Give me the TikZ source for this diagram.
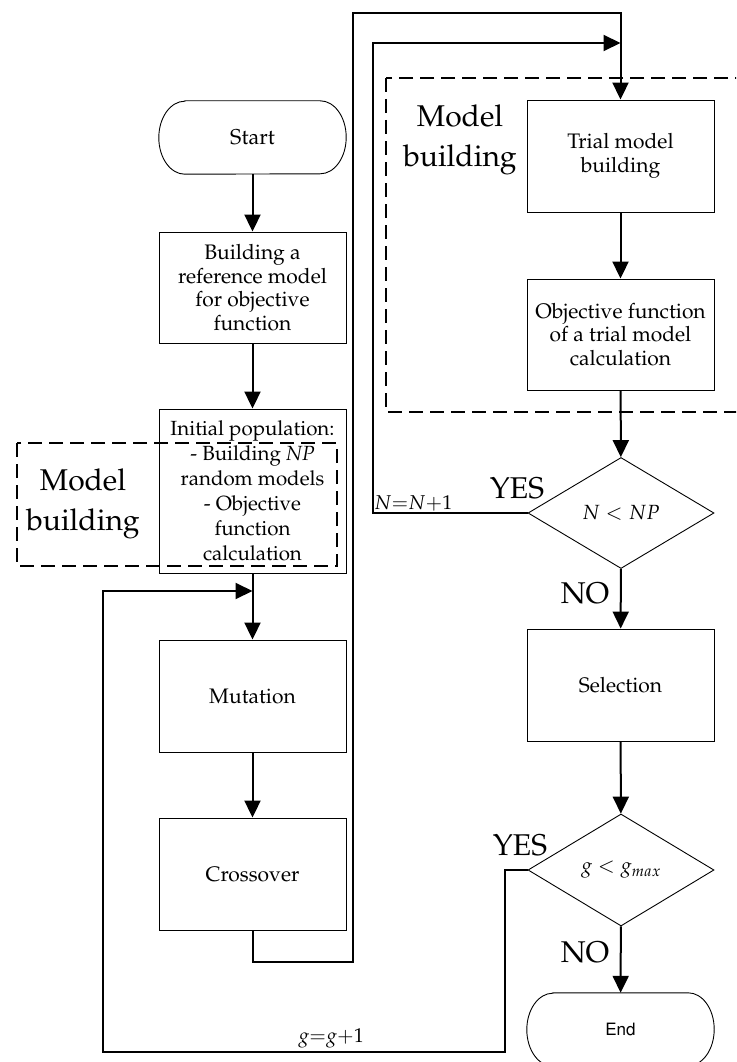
\documentclass[tikz,border=0pt]{standalone}
\usepackage[T1]{fontenc}
\usepackage{mathpazo}
\usetikzlibrary{arrows.meta,shapes.geometric}
\newcommand\stadium[1]{\draw[line width=0.9pt] ([xshift=26pt]#1.north west) -- ([xshift=-26pt]#1.north east) arc[start angle=90,end angle=-90,x radius=26pt,y radius=36.5pt] -- ([xshift=26pt]#1.south west) arc[start angle=270,end angle=90,x radius=26pt,y radius=36.5pt] -- cycle;}
\tikzset{
 box/.style={draw, line width=0.9pt, minimum width=187pt, inner sep=2pt, align=center, font=\fontsize{21}{23.5}\selectfont},
 term/.style={minimum width=187pt, minimum height=73pt, inner sep=0pt, align=center},
 dec/.style={draw, diamond, line width=0.9pt, minimum width=186pt, minimum height=111pt, inner sep=0pt, font=\fontsize{20.5}{22}\selectfont},
 conn/.style={line width=2pt},
 arr/.style={conn, -{Triangle[length=17pt,width=16pt]}},
 grp/.style={line width=1.8pt, dash pattern=on 14pt off 7pt},
 big/.style={font=\fontsize{30}{40}\selectfont, align=center, inner sep=0pt},
 lbl/.style={font=\fontsize{20}{22}\selectfont, inner sep=0pt},
}
\begin{document}
\begin{tikzpicture}[x=1pt,y=1pt]
\useasboundingbox (0,0) rectangle (736,-1062);
\clip (0,0) rectangle (736,-1062);
% nodes
\node[term, font=\fontsize{21.5}{23.5}\selectfont] (start) at (252.5,-137.5) {Start};
\stadium{start}
\node[box, minimum height=111pt] (b1) at (252.5,-287.5) {Building a\\reference model\\for objective\\function};
\node[box, minimum height=164pt, font=\fontsize{20.5}{25}\selectfont] (b2) at (252.5,-491) {Initial population:\\- Building \textit{NP}\\random models\\- Objective\\function\\calculation};
\node[box, minimum height=112pt] (mut) at (252.5,-696) {Mutation};
\node[box, minimum height=112pt] (cro) at (252.5,-874) {Crossover};
\node[box, minimum height=112pt] (trial) at (620.5,-156) {Trial model\\building};
\node[box, minimum height=111pt] (obj) at (620.5,-334.5) {Objective function\\of a trial model\\calculation};
\node[dec] (d1) at (621,-513) {$N < NP$};
\node[box, minimum height=112pt] (sel) at (620.5,-685) {Selection};
\node[dec, minimum height=112pt] (d2) at (621,-870) {$g < g_{max}$};
\node[term, font=\fontfamily{phv}\fontsize{17}{20}\selectfont] (endn) at (620.5,-1029.5) {End};
\stadium{endn}
% join points
\coordinate (jg) at (252.5,-591);
\coordinate (jn) at (620.5,-43);
% connectors
\draw[arr] (start) -- (b1);
\draw[arr] (b1) -- (b2);
\draw[arr] (b2) -- (mut);
\draw[arr] (mut) -- (cro);
\draw[arr] (cro.south) -- ++(0,-32) -| (353,-13) -| (trial.north);
\draw[arr] (trial) -- (obj);
\draw[arr] (obj) -- (d1);
\draw[arr] (d1.west) -| (373,-43) -- (jn);
\draw[arr] (d1) -- (sel);
\draw[arr] (sel) -- (d2);
\draw[arr] (d2) -- (endn);
\draw[arr] (d2.west) -| (505,-1052) -| (103,-591) -- (jg);
% groups
\draw[grp] (17,-443) rectangle (337,-566);
\draw[grp] (386,-78) rectangle (748,-412);
\node[big] (mb1) at (83,-504) {Model\\building};
\node[big] (mb2) at (460,-140) {Model\\building};
% labels
\node[big] (yes1) at (517,-488) {YES};
\node[big] (no1) at (585,-593) {NO};
\node[big] (yes2) at (520,-845) {YES};
\node[big] (no2) at (585,-952) {NO};
\node[lbl, anchor=base west] (inc1) at (374,-509) {$N{=}N{+}1$};
\node[lbl, anchor=base east] (inc2) at (364,-1042) {$g{=}g{+}1$};
\end{tikzpicture}
\end{document}
